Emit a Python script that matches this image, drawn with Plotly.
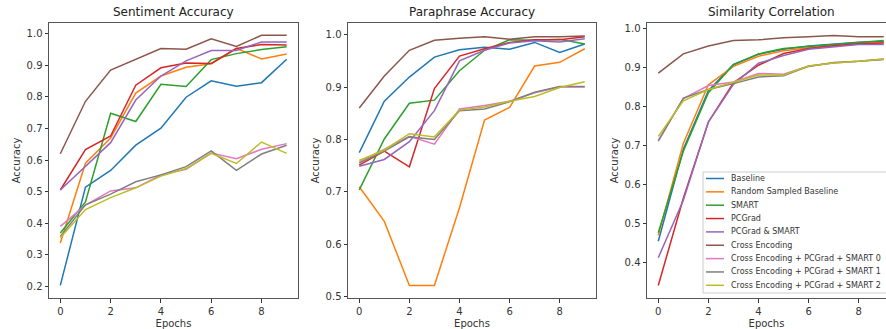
import plotly.graph_objects as go

epochs = list(range(10))

labels = [
    "Baseline",
    "Random Sampled Baseline",
    "SMART",
    "PCGrad",
    "PCGrad & SMART",
    "Cross Encoding",
    "Cross Encoding + PCGrad + SMART 0",
    "Cross Encoding + PCGrad + SMART 1",
    "Cross Encoding + PCGrad + SMART 2",
]
colors = ["#1f77b4", "#ff7f0e", "#2ca02c", "#d62728", "#9467bd",
          "#8c564b", "#e377c2", "#7f7f7f", "#bcbd22"]

# Sentiment Accuracy
sent_baseline = [0.203, 0.514, 0.567, 0.647, 0.701, 0.799, 0.851, 0.834, 0.845, 0.919]
sent_random = [0.337, 0.590, 0.670, 0.812, 0.866, 0.894, 0.905, 0.954, 0.920, 0.936]
sent_smart = [0.369, 0.467, 0.748, 0.722, 0.840, 0.833, 0.918, 0.937, 0.950, 0.959]
sent_pcgrad = [0.505, 0.633, 0.676, 0.837, 0.892, 0.907, 0.906, 0.953, 0.966, 0.964]
sent_pcgrad_smart = [0.505, 0.580, 0.655, 0.790, 0.866, 0.914, 0.947, 0.947, 0.974, 0.974]
sent_cross = [0.620, 0.786, 0.885, 0.920, 0.953, 0.951, 0.984, 0.960, 0.995, 0.995]
sent_ce0 = [0.390, 0.457, 0.502, 0.512, 0.553, 0.571, 0.622, 0.604, 0.634, 0.652]
sent_ce1 = [0.358, 0.458, 0.492, 0.531, 0.553, 0.579, 0.629, 0.567, 0.619, 0.647]
sent_ce2 = [0.354, 0.443, 0.481, 0.512, 0.549, 0.573, 0.621, 0.589, 0.657, 0.621]

# Paraphrase Accuracy
para_baseline = [0.775, 0.873, 0.919, 0.957, 0.971, 0.976, 0.972, 0.985, 0.966, 0.982]
para_random = [0.710, 0.644, 0.522, 0.522, 0.670, 0.837, 0.861, 0.940, 0.947, 0.973]
para_smart = [0.704, 0.801, 0.869, 0.875, 0.931, 0.970, 0.990, 0.989, 0.991, 0.982]
para_pcgrad = [0.751, 0.778, 0.748, 0.897, 0.959, 0.973, 0.985, 0.990, 0.990, 0.996]
para_pcgrad_smart = [0.749, 0.762, 0.796, 0.855, 0.950, 0.970, 0.984, 0.988, 0.986, 0.992]
para_cross = [0.860, 0.921, 0.970, 0.989, 0.993, 0.996, 0.991, 0.996, 0.996, 0.997]
para_ce0 = [0.757, 0.782, 0.806, 0.791, 0.858, 0.865, 0.873, 0.889, 0.900, 0.900]
para_ce1 = [0.755, 0.778, 0.805, 0.800, 0.855, 0.858, 0.872, 0.890, 0.901, 0.901]
para_ce2 = [0.760, 0.780, 0.811, 0.805, 0.856, 0.862, 0.873, 0.882, 0.899, 0.910]

# Similarity Correlation
sim_baseline = [0.455, 0.690, 0.840, 0.907, 0.933, 0.946, 0.954, 0.959, 0.964, 0.966]
sim_random = [0.470, 0.705, 0.855, 0.902, 0.928, 0.942, 0.950, 0.955, 0.960, 0.963]
sim_smart = [0.477, 0.685, 0.835, 0.906, 0.934, 0.948, 0.953, 0.958, 0.963, 0.968]
sim_pcgrad = [0.342, 0.565, 0.760, 0.860, 0.905, 0.935, 0.948, 0.955, 0.960, 0.962]
sim_pcgrad_smart = [0.413, 0.560, 0.760, 0.856, 0.910, 0.930, 0.946, 0.952, 0.958, 0.958]
sim_cross = [0.885, 0.934, 0.954, 0.968, 0.970, 0.975, 0.978, 0.981, 0.978, 0.978]
sim_ce0 = [0.713, 0.820, 0.853, 0.862, 0.884, 0.882, 0.903, 0.911, 0.915, 0.921]
sim_ce1 = [0.711, 0.821, 0.843, 0.858, 0.875, 0.878, 0.902, 0.912, 0.915, 0.920]
sim_ce2 = [0.723, 0.814, 0.843, 0.862, 0.880, 0.880, 0.903, 0.911, 0.915, 0.921]

panels = [
    ("Sentiment Accuracy", [sent_baseline, sent_random, sent_smart, sent_pcgrad,
                            sent_pcgrad_smart, sent_cross, sent_ce0, sent_ce1, sent_ce2],
     [0.163, 1.034], [0.2, 0.3, 0.4, 0.5, 0.6, 0.7, 0.8, 0.9, 1.0]),
    ("Paraphrase Accuracy", [para_baseline, para_random, para_smart, para_pcgrad,
                             para_pcgrad_smart, para_cross, para_ce0, para_ce1, para_ce2],
     [0.498, 1.022], [0.5, 0.6, 0.7, 0.8, 0.9, 1.0]),
    ("Similarity Correlation", [sim_baseline, sim_random, sim_smart, sim_pcgrad,
                                sim_pcgrad_smart, sim_cross, sim_ce0, sim_ce1, sim_ce2],
     [0.31, 1.013], [0.4, 0.5, 0.6, 0.7, 0.8, 0.9, 1.0]),
]

W, H = 886, 329


def px(x):
    return x / W


def py(y):
    return 1 - y / H


x_doms = [(px(49), px(298)), (px(348), px(596)), (px(647), 1.0)]
x_ranges = [[-0.45, 9.45], [-0.45, 9.45], [-0.45, 9.09]]
y_dom = (py(298), py(23))

fig = go.Figure()
font_family = "DejaVu Sans"
text_col = "#333333"
frame_col = "#555555"

annotations = []
shapes = []
for i, (title, series, yr, yt) in enumerate(panels):
    n = "" if i == 0 else str(i + 1)
    for j, vals in enumerate(series):
        fig.add_trace(go.Scatter(
            x=epochs, y=vals, mode="lines", name=labels[j],
            line=dict(color=colors[j], width=1.5),
            xaxis="x" + n, yaxis="y" + n,
            showlegend=False,
        ))
    fig.layout["xaxis" + n] = dict(
        domain=x_doms[i], range=x_ranges[i], anchor="y" + n,
        tickvals=[0, 2, 4, 6, 8], ticks="outside", ticklen=3.5, tickwidth=0.8,
        tickcolor=text_col, showgrid=False, zeroline=False,
        showline=True, linecolor=frame_col, linewidth=1, mirror=True,
        tickfont=dict(size=10, color=text_col, family=font_family),
        title=dict(text="Epochs", font=dict(size=10, color=text_col, family=font_family), standoff=4),
    )
    fig.layout["yaxis" + n] = dict(
        domain=y_dom, range=yr, anchor="x" + n,
        tickvals=yt, tickformat=".1f", ticks="outside", ticklen=3.5, tickwidth=0.8,
        tickcolor=text_col, showgrid=False, zeroline=False,
        showline=True, linecolor=frame_col, linewidth=1, mirror=(i != 2),
        tickfont=dict(size=10, color=text_col, family=font_family),
        title=dict(text="Accuracy", font=dict(size=10, color=text_col, family=font_family), standoff=4),
    )
    left = [49, 348, 647][i]
    annotations.append(dict(
        text=title, xref="paper", yref="paper",
        x=px(left + 124), y=py(12),
        xanchor="center", yanchor="middle", showarrow=False,
        font=dict(size=12, color="#222222", family=font_family),
    ))

# Legend (matplotlib-style, inside the third panel, cut off at the right edge)
shapes.append(dict(
    type="rect", xref="paper", yref="paper",
    x0=px(703), x1=px(920), y0=py(293), y1=py(172),
    fillcolor="rgba(255,255,255,0.8)", line=dict(color="#cccccc", width=1),
    layer="above",
))
for j, lab in enumerate(labels):
    yc = 178.5 + j * 13.35
    shapes.append(dict(
        type="line", xref="paper", yref="paper",
        x0=px(706), x1=px(724), y0=py(yc), y1=py(yc),
        line=dict(color=colors[j], width=1.5), layer="above",
    ))
    annotations.append(dict(
        text=lab, xref="paper", yref="paper", x=px(729), y=py(yc),
        xanchor="left", yanchor="middle", showarrow=False,
        font=dict(size=8, color=text_col, family=font_family),
    ))

fig.update_layout(
    width=W, height=H,
    margin=dict(l=0, r=0, t=0, b=0, autoexpand=False),
    paper_bgcolor="white", plot_bgcolor="white",
    annotations=annotations, shapes=shapes,
    showlegend=False,
)

# remove the page's default 8px body margin so the figure fills the window
fig.write_html("out.html", config={"displayModeBar": False},
               post_script="document.body.style.margin='0';")
